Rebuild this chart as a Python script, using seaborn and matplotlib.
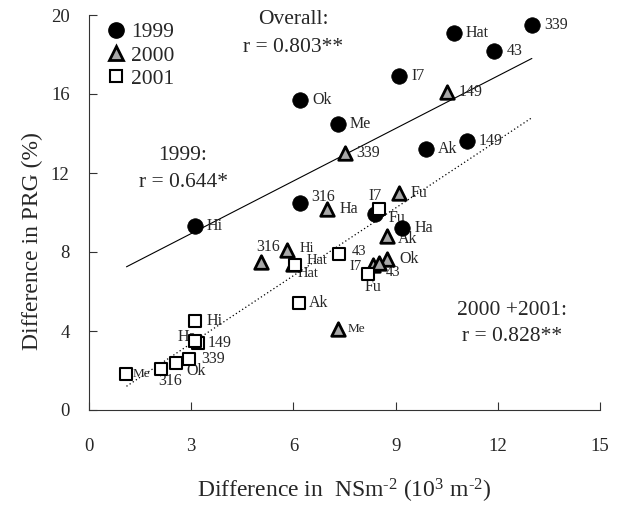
import matplotlib
matplotlib.use("Agg")
import matplotlib.pyplot as plt
import seaborn as sns
import pandas as pd
from matplotlib.lines import Line2D

# ---------------- data ----------------
lab1999 = ['Hi', '316', 'Ok', 'Me', 'I7', 'Hat', '43', '339', 'Ak', '149', 'Ha', 'Fu']
x1999 = [3.1, 6.2, 6.2, 7.3, 9.1, 10.7, 11.9, 13.0, 9.9, 11.1, 9.2, 8.4]
y1999 = [9.3, 10.5, 15.7, 14.5, 16.9, 19.1, 18.2, 19.5, 13.2, 13.6, 9.2, 9.9]

lab2000 = ['339', '149', 'Fu', 'Ha', 'Ak', 'Hi', '316', 'Ok', 'I7', '43', 'Me', 'Hat']
x2000 = [7.5, 10.5, 9.1, 7.0, 8.75, 5.8, 5.05, 8.75, 8.35, 8.5, 7.3, 6.0]
y2000 = [13.0, 16.1, 11.0, 10.2, 8.8, 8.1, 7.5, 7.65, 7.35, 7.45, 4.1, 7.4]

lab2001 = ['I7', '43', 'Hat', 'Fu', 'Ak', 'Hi', '149', 'Ha', '339', 'Ok', '316', 'Me']
x2001 = [8.5, 7.35, 6.05, 8.2, 6.15, 3.1, 3.2, 3.1, 2.95, 2.55, 2.1, 1.1]
y2001 = [10.2, 7.9, 7.35, 6.9, 5.4, 4.5, 3.4, 3.5, 2.6, 2.4, 2.1, 1.8]

fit_x = [1.1, 13.0]
fit_1999 = [7.25, 17.8]
fit_2000_2001 = [1.2, 14.8]

x_ticks = [0, 3, 6, 9, 12, 15]
y_ticks = [0, 4, 8, 12, 16, 20]

df = pd.concat([
    pd.DataFrame({'x': x1999, 'y': y1999, 'lab': lab1999, 'year': '1999'}),
    pd.DataFrame({'x': x2000, 'y': y2000, 'lab': lab2000, 'year': '2000'}),
    pd.DataFrame({'x': x2001, 'y': y2001, 'lab': lab2001, 'year': '2001'}),
], ignore_index=True)

# ---------------- style ----------------
sns.set_style("ticks")
plt.rcParams['font.family'] = ['Liberation Serif', 'DejaVu Serif']
plt.rcParams['mathtext.fontset'] = 'custom'
plt.rcParams['mathtext.rm'] = 'Liberation Serif'
plt.rcParams['mathtext.it'] = 'Liberation Serif:italic'

fig = plt.figure(figsize=(6.22, 5.05), dpi=100)
ax = fig.add_axes([89 / 622, 95 / 505, 511 / 622, 395 / 505])

# fit lines
sns.lineplot(x=fit_x, y=fit_1999, ax=ax, color='black', lw=0.8, zorder=1)
sns.lineplot(x=fit_x, y=fit_2000_2001, ax=ax, color='black', lw=0.9,
             linestyle=(0, (1, 2)), zorder=1)

styles = {
    '1999': dict(marker='o', s=125, color='black', edgecolor='black', linewidth=0.5),
    '2000': dict(marker='^', s=95, color='#a8a8a8', edgecolor='black', linewidth=2.0),
    '2001': dict(marker='s', s=85, color='white', edgecolor='black', linewidth=1.5),
}
for yr, st in styles.items():
    sub = df[df.year == yr]
    sns.scatterplot(data=sub, x='x', y='y', ax=ax, zorder=3, legend=False, **st)

# point labels: (dx px, dy px, ha)
default_off = (12, 0, 'left')
offsets = {
    ('1999', 'Fu'): (13, -4, 'left'),
    ('1999', '316'): (11, 6, 'left'),
    ('2000', '316'): (7, 15, 'center'),
    ('2000', 'I7'): (-12, -2, 'right'),
    ('2000', '43'): (7, -10, 'left'),
    ('2000', 'Hat'): (13, 3, 'left'),
    ('2000', 'Ak'): (11, -3, 'left'),
    ('2000', 'Me'): (10, 0, 'left'),
    ('2000', 'Hi'): (13, 2, 'left'),
    ('2001', 'I7'): (-3, 13, 'center'),
    ('2001', '43'): (12, 2, 'left'),
    ('2001', 'Hat'): (3, -9, 'left'),
    ('2001', 'Fu'): (5, -13, 'center'),
    ('2001', 'Ak'): (10, 0, 'left'),
    ('2001', 'Ha'): (-17, 4, 'left'),
    ('2001', 'Ok'): (11, -8, 'left'),
    ('2001', '316'): (10, -12, 'center'),
    ('2001', 'Me'): (6, 0, 'left'),
    ('2001', '149'): (10, 0, 'left'),
}
small = {('2000', 'Me'), ('2001', 'Me')}
compact = {('2000', 'Hi'), ('2000', 'Hat'), ('2001', 'Hat'), ('2000', 'I7'),
           ('2001', '43'), ('2000', '43')}
for _, r in df.iterrows():
    dx, dy, ha = offsets.get((r.year, r.lab), default_off)
    key = (r.year, r.lab)
    fs = 9.5 if key in small else (10.5 if key in compact else 11.5)
    ax.annotate(r.lab, (r.x, r.y), xytext=(dx * 0.72, dy * 0.72),
                textcoords='offset points', ha=ha, va='center',
                fontsize=fs, zorder=2)

# r annotations
ax.text(5.99, 19.75, 'Overall:', ha='center', va='center', fontsize=15.5)
ax.text(5.99, 18.33, 'r = 0.803**', ha='center', va='center', fontsize=15.5)
ax.text(2.76, 12.9, '1999:', ha='center', va='center', fontsize=15.5)
ax.text(2.76, 11.5, 'r = 0.644*', ha='center', va='center', fontsize=15.5)
ax.text(12.42, 5.06, '2000 +2001:', ha='center', va='center', fontsize=15.5)
ax.text(12.42, 3.7, 'r = 0.828**', ha='center', va='center', fontsize=15.5)

# legend
handles = [
    Line2D([], [], marker='o', ls='none', markersize=11, markerfacecolor='black',
           markeredgecolor='black'),
    Line2D([], [], marker='^', ls='none', markersize=10, markerfacecolor='#a8a8a8',
           markeredgecolor='black', markeredgewidth=2),
    Line2D([], [], marker='s', ls='none', markersize=9, markerfacecolor='white',
           markeredgecolor='black', markeredgewidth=1.5),
]
ax.legend(handles, ['1999', '2000', '2001'], loc='upper left',
          bbox_to_anchor=(-0.008, 1.025), frameon=False, fontsize=15.5,
          handletextpad=0.05, handlelength=1.3, labelspacing=0.15,
          borderaxespad=0.4)

# axes
ax.set_xlim(0, 15)
ax.set_ylim(0, 20)
ax.set_xticks(x_ticks)
ax.set_yticks(y_ticks)
ax.tick_params(direction='in', length=6, width=0.8, labelsize=13.5, color='#333333')
ax.tick_params(axis='x', pad=20)
ax.tick_params(axis='y', pad=14)
for side in ['top', 'right']:
    ax.spines[side].set_visible(False)
for side in ['left', 'bottom']:
    ax.spines[side].set_linewidth(0.8)
    ax.spines[side].set_color('#333333')

ax.set_xlabel(r'Difference in  NSm$^{\text{-2}}$ (10$^{3}$ m$^{\text{-2}}$)',
              fontsize=17, labelpad=16)
ax.set_ylabel('Difference in PRG (%)', fontsize=17)
ax.yaxis.set_label_coords(-0.09, 0.428)

fig.savefig('out.png', dpi=100)
